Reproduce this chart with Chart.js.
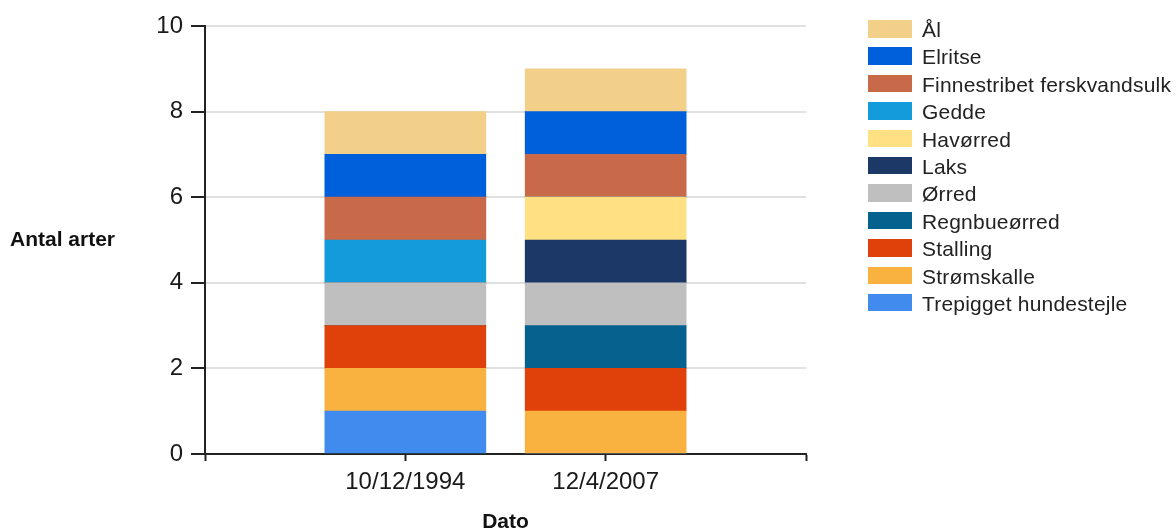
<!DOCTYPE html>
<html>
<head>
<meta charset="utf-8">
<script src="https://cdn.jsdelivr.net/npm/chart.js@4.4.1/dist/chart.umd.min.js"></script>
<style>
  html, body { margin: 0; padding: 0; background: #fff; }
  #wrap { position: relative; width: 1176px; height: 531px; }
  #legend {
    position: absolute; left: 868px; top: 20px;
    font-family: "Liberation Sans", Arial, sans-serif; font-size: 21px; color: #222;
  }
  .row { display: flex; align-items: center; height: 17.5px; margin-bottom: 9.9px; white-space: nowrap; }
  .box { width: 44px; height: 17.5px; margin-right: 10px; flex: none; }
  .txt { line-height: 17.5px; position: relative; top: 1px; letter-spacing: 0.2px; }
</style>
</head>
<body>
<div id="wrap">
  <canvas id="fishChart" width="1176" height="531"></canvas>
  <div id="legend"></div>
</div>
<script>
// data
const dates = ['10/12/1994', '12/4/2007'];
const species = ['Ål', 'Elritse', 'Finnestribet ferskvandsulk', 'Gedde', 'Havørred', 'Laks',
  'Ørred', 'Regnbueørred', 'Stalling', 'Strømskalle', 'Trepigget hundestejle'];
const count1994 = [1, 1, 1, 1, 0, 0, 1, 0, 1, 1, 1];
const count2007 = [1, 1, 1, 0, 1, 1, 1, 1, 1, 1, 0];
const colors = ['#f2d08a', '#005fdb', '#c8694a', '#139bdb', '#ffe083', '#1b3866',
  '#bfbfbf', '#05628f', '#e0400a', '#f9b23f', '#418bee'];
const yMax = 10;
const yStep = 2;
const xTitle = 'Dato';
const yTitle = 'Antal arter';

const family = '"Liberation Sans", Arial, sans-serif';

// empty slots on each side so the bars sit at 1/3 and 2/3 of the axis
const labels = [''].concat(dates, ['']);

// first dataset is drawn at the bottom of the stack
const datasets = species.map((name, i) => ({
  label: name,
  data: [null, count1994[i], count2007[i], null],
  backgroundColor: colors[i],
  barThickness: 161
})).reverse();

// horizontal y axis title
const yTitlePlugin = {
  id: 'yTitle',
  afterDraw(chart) {
    const { ctx, chartArea } = chart;
    ctx.save();
    ctx.font = 'bold 21px ' + family;
    ctx.fillStyle = '#111';
    ctx.textAlign = 'left';
    ctx.textBaseline = 'middle';
    ctx.fillText(yTitle, 10, (chartArea.top + chartArea.bottom) / 2);
    ctx.restore();
  }
};

function initChart() {
  const ctx = document.getElementById('fishChart').getContext('2d');
  new Chart(ctx, {
    type: 'bar',
    data: { labels, datasets },
    plugins: [yTitlePlugin],
    options: {
      responsive: false,
      animation: false,
      layout: { padding: { top: 26, right: 370, left: 0, bottom: 0 } },
      plugins: {
        legend: { display: false },
        tooltip: { enabled: false }
      },
      scales: {
        x: {
          stacked: true,
          offset: false,
          grid: { offset: false, drawOnChartArea: false, tickLength: 7, tickColor: '#222', tickWidth: 2 },
          border: { color: '#222', width: 2 },
          ticks: { autoSkip: false, maxRotation: 0, padding: 7, color: '#1a1a1a', font: { size: 24, family } },
          title: {
            display: true, text: xTitle, color: '#111', padding: 0,
            font: { size: 21, weight: 'bold', family, lineHeight: 0.85 }
          },
          afterFit(scale) { scale.height = 77; }
        },
        y: {
          stacked: true,
          min: 0,
          max: yMax,
          ticks: { stepSize: yStep, padding: 8, color: '#1a1a1a', font: { size: 24, family } },
          grid: { color: '#e0e0e0', lineWidth: 2, tickColor: '#222', tickLength: 14, tickWidth: 2 },
          border: { color: '#222', width: 2 },
          afterFit(scale) { scale.width = 205; }
        }
      }
    }
  });
}

// legend next to the chart
function initLegend() {
  const legend = document.getElementById('legend');
  species.forEach((name, i) => {
    const row = document.createElement('div');
    row.className = 'row';
    const box = document.createElement('span');
    box.className = 'box';
    box.style.background = colors[i];
    const txt = document.createElement('span');
    txt.className = 'txt';
    txt.textContent = name;
    row.appendChild(box);
    row.appendChild(txt);
    legend.appendChild(row);
  });
}

initChart();
initLegend();
</script>
</body>
</html>
